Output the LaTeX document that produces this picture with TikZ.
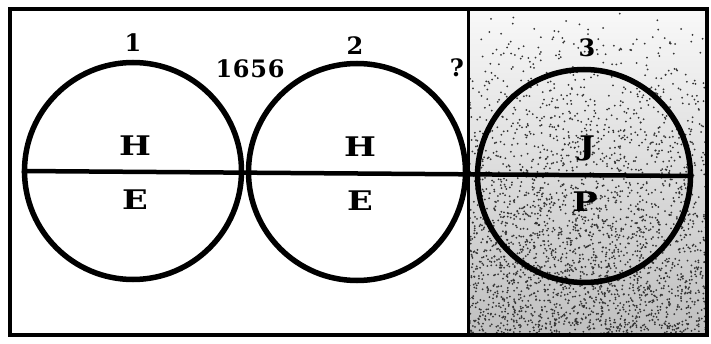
\documentclass[tikz,border=0pt]{standalone}
\usepackage{fontspec}
\setmainfont{DejaVu Serif}

\begin{document}
\begin{tikzpicture}[x=1pt, y=-1pt,
  ring/.style={draw, circle, line width=5.5pt, minimum size=217pt, inner sep=0pt},
  letterbox/.style={font=\bfseries\fontsize{27}{27}\selectfont, xscale=1.25, inner sep=0pt},
  numlabel/.style={font=\bfseries\fontsize{24}{24}\selectfont, inner sep=0pt}]
  \useasboundingbox (0,0) rectangle (711,344);
  % speckled right panel
  \begin{scope}
    \clip (468,9) rectangle (707,335);
    \shade[top color=gray!5, bottom color=gray!50] (468,9) rectangle (707,335);
    \pgfmathsetseed{7}
    \foreach \k in {1,...,2800}{
      \pgfmathsetmacro{\px}{468+239*rnd}
      \pgfmathsetmacro{\py}{9+326*sqrt(rnd)}
      \fill[black!80] (\px,\py) circle (1.0);
    }
  \end{scope}
  % frame and divider
  \draw[line width=3.5pt] (10,9) rectangle (707,335);
  \coordinate (dtop) at (468,9);
  \coordinate (dbot) at (468,335);
  \draw[line width=3pt] (dtop) -- (dbot);
  % circles
  \node[ring] (c1) at (133,171) {};
  \node[ring] (c2) at (357,172) {};
  \node[ring, minimum size=213pt] (c3) at (584,176) {};
  \draw[line width=4.5pt] (c1.west) -- (c3.east);
  % labels
  \node[numlabel] (n1) at (133,43) {1};
  \node[numlabel] (n2) at (355,46) {2};
  \node[numlabel] (n3) at (587,48) {3};
  \node[numlabel] (year) at (250,69) {\addfontfeatures{LetterSpace=3}1656};
  \node[numlabel] (q) at (457,68) {?};
  \node[letterbox] (h1) at (135,146) {H};
  \node[letterbox] (e1) at (135,200) {E};
  \node[letterbox] (h2) at (360,147) {H};
  \node[letterbox] (e2) at (360,201) {E};
  \node[letterbox] (j3) at (587,148) {J};
  \node[letterbox] (p3) at (585,202) {P};
\end{tikzpicture}
\end{document}
